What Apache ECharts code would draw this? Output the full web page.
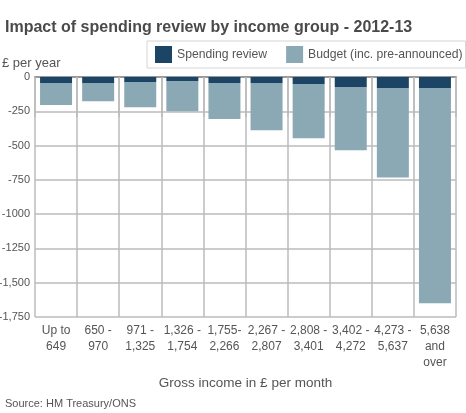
<!DOCTYPE html>
<html>
<head>
<meta charset="utf-8">
<script src="https://cdn.jsdelivr.net/npm/echarts@6/dist/echarts.min.js"></script>
<style>
html,body{margin:0;padding:0;background:#fff;}
#chart{width:466px;height:413px;}
</style>
</head>
<body>
<div id="chart"></div>
<script>
var categories = ['Up to\n649', '650 -\n970', '971 -\n1,325', '1,326 -\n1,754', '1,755-\n2,266', '2,267 -\n2,807', '2,808 -\n3,401', '3,402 -\n4,272', '4,273 -\n5,637', '5,638\nand\nover'];
var spendingReview = [-44, -44, -37, -29, -44, -44, -51, -73, -80, -80];
var budget = [-161, -132, -183, -220, -263, -344, -395, -461, -652, -1570];
var yTickValues = [0, -250, -500, -750, -1000, -1250, -1500, -1750];
var yTickLabels = ['0', '-250', '-500', '-750', '-1000', '-1250', '-1,500', '-1,750'];

var FONT = "'Liberation Sans', Arial, Helvetica, sans-serif";
var chart = echarts.init(document.getElementById('chart'));
chart.setOption({
  animation: false,
  textStyle: {fontFamily: FONT},
  title: [
    {text: 'Impact of spending review by income group - 2012-13', left: 0, top: 15,
     textStyle: {fontFamily: FONT, fontSize: 16, fontWeight: 'bold', color: '#4a4a4a'}},
    {text: '£ per year', left: -3, top: 52,
     textStyle: {fontFamily: FONT, fontSize: 13, fontWeight: 'normal', color: '#555'}},
    {text: 'Source: HM Treasury/ONS', left: 0, top: 393,
     textStyle: {fontFamily: FONT, fontSize: 11, fontWeight: 'normal', color: '#555'}}
  ],
  legend: {
    orient: 'horizontal',
    left: 147, top: 41, width: 330,
    padding: [5, 3, 5, 8],
    itemWidth: 17, itemHeight: 17, itemGap: 19,
    borderColor: '#d4d4d4', borderWidth: 1, backgroundColor: '#fff',
    textStyle: {fontFamily: FONT, fontSize: 12.2, color: '#555'},
    icon: 'rect',
    data: ['Spending review', 'Budget (inc. pre-announced)']
  },
  grid: {left: 35, right: 10, top: 77, bottom: 96, outerBoundsMode: 'none', containLabel: false},
  xAxis: [
    {
      type: 'category', data: categories, position: 'bottom',
      axisLine: {show: false},
      axisTick: {show: true, interval: 0, length: 40, lineStyle: {color: '#bbb', width: 1.5}},
      splitLine: {show: true, interval: 0, lineStyle: {color: '#bbb', width: 1.5}},
      axisLabel: {interval: 0, margin: 6, fontFamily: FONT, fontSize: 12, lineHeight: 16, color: '#555'},
      name: 'Gross income in £ per month', nameLocation: 'middle', nameGap: 51,
      nameTextStyle: {fontFamily: FONT, fontSize: 13.5, color: '#555'}
    },
    {
      type: 'category', data: categories, position: 'top',
      axisLine: {show: true, lineStyle: {color: '#999', width: 2}},
      axisTick: {show: false}, axisLabel: {show: false}, splitLine: {show: false}
    }
  ],
  yAxis: {
    type: 'value', min: -1750, max: 0, interval: 250,
    axisLine: {show: false}, axisTick: {show: false},
    splitLine: {show: true, lineStyle: {color: '#bbb', width: 1.5}},
    axisLabel: {margin: 5, fontFamily: FONT, fontSize: 11, color: '#555',
      formatter: function (v) { var i = yTickValues.indexOf(v); return i >= 0 ? yTickLabels[i] : String(v); }}
  },
  series: [
    {name: 'Spending review', type: 'bar', stack: 'a', data: spendingReview, barWidth: '76%',
     xAxisIndex: 0, itemStyle: {color: '#1b4465'}},
    {name: 'Budget (inc. pre-announced)', type: 'bar', stack: 'a', data: budget, barWidth: '76%',
     xAxisIndex: 0, itemStyle: {color: '#8ba8b5'}}
  ]
});
</script>
</body>
</html>
